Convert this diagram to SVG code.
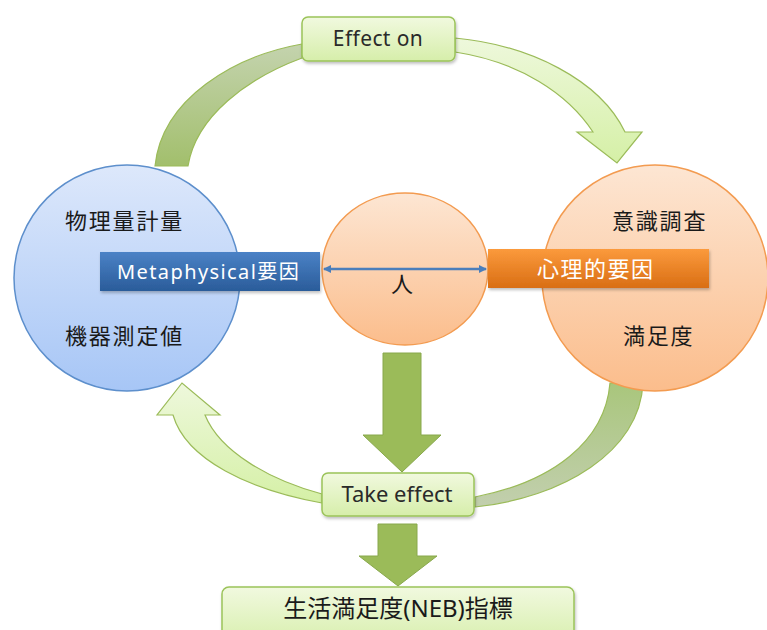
<svg xmlns="http://www.w3.org/2000/svg" width="767" height="630" viewBox="0 0 767 630">
  <style>
    text { font-family: "Noto Sans", "Noto Sans CJK JP", sans-serif; }
    .dark { fill: #1a1a1a; font-size: 22px; letter-spacing: 1.8px; }
    .lbl { fill: #2a2a2a; font-size: 21px; text-anchor: middle; }
    .white { fill: #ffffff; font-size: 20px; }
    .box { fill: url(#gBox); stroke: #9bc35a; stroke-width: 1.5; filter: url(#shadow); }
    .bigArrow { fill: #9bbb59; stroke: #88a84c; stroke-width: 1; }
  </style>
  <defs>
    <linearGradient id="gBlue" x1="0" y1="0" x2="0" y2="1">
      <stop offset="0" stop-color="#dde8fb"/>
      <stop offset="1" stop-color="#a7c6f6"/>
    </linearGradient>
    <linearGradient id="gOrange" x1="0" y1="0" x2="0" y2="1">
      <stop offset="0" stop-color="#fde6d3"/>
      <stop offset="1" stop-color="#fbbd8c"/>
    </linearGradient>
    <linearGradient id="gBox" x1="0" y1="0" x2="0" y2="1">
      <stop offset="0" stop-color="#f1f9df"/>
      <stop offset="1" stop-color="#d6eeaa"/>
    </linearGradient>
    <linearGradient id="gBarBlue" x1="0" y1="0" x2="0" y2="1">
      <stop offset="0" stop-color="#4b82c6"/>
      <stop offset="1" stop-color="#2a5c9a"/>
    </linearGradient>
    <linearGradient id="gBarOrange" x1="0" y1="0" x2="0" y2="1">
      <stop offset="0" stop-color="#fb9a3c"/>
      <stop offset="1" stop-color="#d96e14"/>
    </linearGradient>
    <linearGradient id="gArcDark" x1="0" y1="1" x2="0" y2="0">
      <stop offset="0" stop-color="#a2bf6c"/>
      <stop offset="1" stop-color="#c4d3ae"/>
    </linearGradient>
    <linearGradient id="gArcDark2" x1="0" y1="0" x2="0" y2="1">
      <stop offset="0" stop-color="#a9c67c"/>
      <stop offset="1" stop-color="#c2cfae"/>
    </linearGradient>
    <linearGradient id="gArcLight" x1="0" y1="0" x2="0" y2="1">
      <stop offset="0" stop-color="#eef8dc"/>
      <stop offset="1" stop-color="#d5f0a6"/>
    </linearGradient>
    <filter id="shadow" x="-10%" y="-20%" width="120%" height="150%">
      <feDropShadow dx="1" dy="2" stdDeviation="1.5" flood-color="#000" flood-opacity="0.25"/>
    </filter>
    <marker id="ah" markerWidth="8" markerHeight="8" refX="7" refY="4" orient="auto-start-reverse" markerUnits="userSpaceOnUse">
      <path d="M0,0 L8,4 L0,8 Z" fill="#4a7ebb"/>
    </marker>
  </defs>

  <!-- curved arrows between the circles, and the two straight down arrows -->
  <g id="connectors">
    <path d="M302,44 C235,56 162,98 155,166 L188,166 C196,116 248,78 302,58 Z" fill="url(#gArcDark)" stroke="#9bbb59" stroke-width="1.2"/>
    <path d="M455,38 C530,45 600,80 625,132 L642,132 L617,163 L577,132 L593,132 C568,94 520,62 455,52 Z" fill="url(#gArcLight)" stroke="#9bbb59" stroke-width="1.2"/>
    <path d="M322,503 C250,490 186,460 173,415 L157,415 L182,383 L220,415 L205,415 C220,452 270,480 322,494 Z" fill="url(#gArcLight)" stroke="#9bbb59" stroke-width="1.2"/>
    <path d="M610,383 L643,383 C640,452 562,498 475,507 L475,497 C552,482 605,442 610,383 Z" fill="url(#gArcDark2)" stroke="#9bbb59" stroke-width="1.2"/>
    <path class="bigArrow" d="M383,353 L421,353 L421,435 L441,435 L402,472 L363,435 L383,435 Z"/>
    <path class="bigArrow" d="M378,524 L417,524 L417,556 L437,556 L398,586 L359,556 L378,556 Z"/>
  </g>

  <g id="node-physical">
    <circle cx="127" cy="278" r="113" fill="url(#gBlue)" stroke="#5d8fcc" stroke-width="1.5"/>
    <text class="dark" x="65" y="229">物理量計量</text>
    <text class="dark" x="65" y="344">機器測定値</text>
  </g>

  <g id="node-psych">
    <circle cx="655" cy="278" r="113" fill="url(#gOrange)" stroke="#f39b50" stroke-width="1.5"/>
    <text class="dark" x="612" y="229">意識調査</text>
    <text class="dark" x="623" y="344">満足度</text>
  </g>

  <g id="node-person">
    <ellipse cx="405" cy="269" rx="83" ry="76" fill="url(#gOrange)" stroke="#f39b50" stroke-width="1.5"/>
  </g>

  <g id="bar-metaphysical">
    <rect x="100" y="252" width="220" height="39" fill="url(#gBarBlue)" filter="url(#shadow)"/>
    <text class="white" x="117" y="279" style="letter-spacing:1.4px">Metaphysical要因</text>
  </g>

  <g id="bar-psych">
    <rect x="488" y="249" width="221" height="39" fill="url(#gBarOrange)" filter="url(#shadow)"/>
    <text class="white" x="537" y="277" style="font-size:22px; letter-spacing:1.5px">心理的要因</text>
  </g>

  <g id="balance">
    <line x1="324" y1="269" x2="486" y2="269" stroke="#4a7ebb" stroke-width="2.5" marker-start="url(#ah)" marker-end="url(#ah)"/>
    <text x="402" y="292" text-anchor="middle" style="font-size:22px; fill:#1a1a1a">人</text>
  </g>

  <g id="box-effect-on">
    <rect class="box" x="302" y="17" width="153" height="44" rx="6"/>
    <text class="lbl" x="378" y="46" style="letter-spacing:0.4px">Effect on</text>
  </g>

  <g id="box-take-effect">
    <rect class="box" x="322" y="473" width="152" height="43" rx="6"/>
    <text class="lbl" x="397" y="502" style="font-size:22px">Take effect</text>
  </g>

  <g id="box-neb">
    <rect class="box" x="222" y="587" width="352" height="60" rx="7"/>
    <text class="lbl" x="398" y="617" style="font-size:24px; fill:#1a1a1a">生活満足度(NEB)指標</text>
  </g>
</svg>
